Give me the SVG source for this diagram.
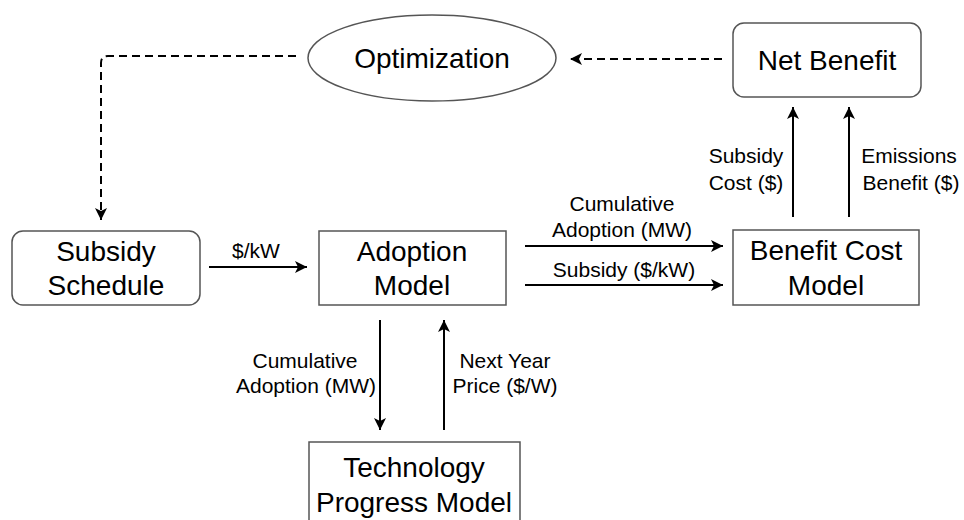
<svg xmlns="http://www.w3.org/2000/svg" width="964" height="520" viewBox="0 0 964 520">
<style>
.node{fill:#fff;stroke:#555;stroke-width:1.5}
.nt{font-family:"Liberation Sans",Arial,sans-serif;font-size:28px;fill:#000;text-anchor:middle}
.lt{font-family:"Liberation Sans",Arial,sans-serif;font-size:21px;fill:#000;text-anchor:middle}
.edge{fill:none;stroke:#000;stroke-width:2}
.dash{stroke-dasharray:8 5}
</style>
<defs>
<marker id="arr" markerUnits="userSpaceOnUse" markerWidth="14" markerHeight="14" refX="12" refY="7" orient="auto" viewBox="0 0 14 14">
<path d="M0,1 L12,7 L0,13 L3,7 z" fill="#000"/>
</marker>
</defs>
<rect width="964" height="520" fill="#fff"/>
<g id="connectors">
<path class="edge dash" d="M722,59 L570,59" marker-end="url(#arr)"/>
<path class="edge dash" d="M296,56 L108,56 Q101,56 101,63 L101,220" marker-end="url(#arr)"/>
<path class="edge" d="M209,267 L307,267" marker-end="url(#arr)"/>
<path class="edge" d="M525,246 L723,246" marker-end="url(#arr)"/>
<path class="edge" d="M525,285 L723,285" marker-end="url(#arr)"/>
<path class="edge" d="M793,217 L793,107" marker-end="url(#arr)"/>
<path class="edge" d="M849,217 L849,107" marker-end="url(#arr)"/>
<path class="edge" d="M380,320 L380,430" marker-end="url(#arr)"/>
<path class="edge" d="M444,430 L444,320" marker-end="url(#arr)"/>
<text class="lt" x="256" y="258">$/kW</text>
<text class="lt" x="622" y="211">Cumulative</text>
<text class="lt" x="622" y="237">Adoption (MW)</text>
<text class="lt" x="624" y="277">Subsidy ($/kW)</text>
<text class="lt" x="746" y="163">Subsidy</text>
<text class="lt" x="746" y="190">Cost ($)</text>
<text class="lt" x="909" y="163">Emissions</text>
<text class="lt" x="911" y="190">Benefit ($)</text>
<text class="lt" x="305" y="368">Cumulative</text>
<text class="lt" x="306" y="393">Adoption (MW)</text>
<text class="lt" x="505" y="368">Next Year</text>
<text class="lt" x="505" y="393">Price ($/W)</text>
</g>
<g id="optimization">
<ellipse class="node" cx="432" cy="58" rx="124" ry="43"/>
<text class="nt" x="432" y="68">Optimization</text>
</g>
<g id="net-benefit">
<rect class="node" x="733" y="23" width="188" height="74" rx="11"/>
<text class="nt" x="827" y="70">Net Benefit</text>
</g>
<g id="subsidy-schedule">
<rect class="node" x="12" y="231" width="188" height="74" rx="11"/>
<text class="nt" x="106" y="261">Subsidy</text>
<text class="nt" x="106" y="295">Schedule</text>
</g>
<g id="adoption-model">
<rect class="node" x="319" y="231" width="187" height="74"/>
<text class="nt" x="412" y="261">Adoption</text>
<text class="nt" x="412" y="295">Model</text>
</g>
<g id="benefit-cost-model">
<rect class="node" x="733" y="230" width="186" height="75"/>
<text class="nt" x="826" y="260">Benefit Cost</text>
<text class="nt" x="826" y="295">Model</text>
</g>
<g id="technology-progress-model">
<rect class="node" x="309" y="442" width="211" height="82"/>
<text class="nt" x="414" y="477">Technology</text>
<text class="nt" x="414" y="512">Progress Model</text>
</g>
</svg>
